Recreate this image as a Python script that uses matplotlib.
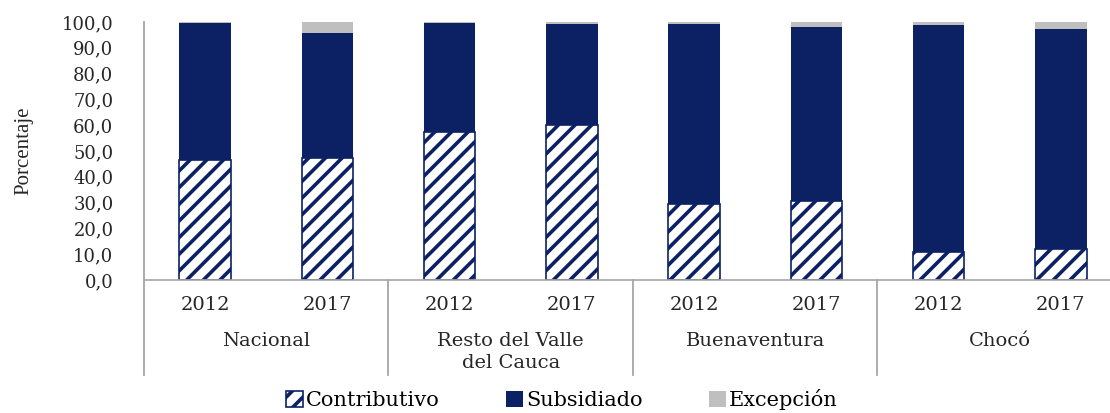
import numpy as np
import matplotlib
matplotlib.use('Agg')
from matplotlib import pyplot as plt
from matplotlib.patches import Patch

# afiliacion por regimen (%), dos anos por region
regiones = ['Nacional', 'Resto del Valle\ndel Cauca', 'Buenaventura', 'Chocó']
anios = ['2012', '2017']
contributivo = [46.5, 47.3, 57.4, 60.1, 29.3, 30.6, 10.9, 12.0]
subsidiado = [53.0, 48.4, 42.2, 39.1, 70.1, 67.5, 87.9, 85.3]
excepcion = [0.5, 4.3, 0.4, 0.8, 0.6, 1.9, 1.2, 2.7]

navy = '#0b2163'
gris = '#bfbfbf'
linea = '#a6a6a6'
texto = '#262626'
plt.rcParams['hatch.linewidth'] = 2.6
plt.rcParams['hatch.color'] = navy

fig = plt.figure(figsize=(11.1, 4.13), dpi=100)
ax = fig.add_axes([144/1110, 133/413, 978/1110, 258/413])

x = np.arange(len(contributivo))
w = 0.42
contrib = np.array(contributivo)
subs = np.array(subsidiado)
ax.bar(x, contrib, w, color='white', edgecolor=navy, hatch='//', linewidth=1.2)
ax.bar(x, subs, w, bottom=contrib, color=navy, linewidth=0)
ax.bar(x, excepcion, w, bottom=contrib + subs, color=gris, linewidth=0)

ax.set_xlim(-0.5, 7.5)
ax.set_ylim(0, 100)
ax.set_yticks(np.arange(0, 101, 10))
ax.set_yticklabels([('%.1f' % v).replace('.', ',') for v in np.arange(0, 101, 10)],
                   family='DejaVu Serif', fontsize=13, color=texto)
ax.tick_params(axis='y', length=0, pad=22)
ax.set_xticks([])
for s in ['top', 'right', 'left']:
    ax.spines[s].set_visible(False)
ax.spines['bottom'].set_color(linea)
ax.spines['bottom'].set_linewidth(1.2)

# separadores de grupo bajo el eje
trans = ax.get_xaxis_transform()
for xs in [-0.5, 1.5, 3.5, 5.5, 7.5]:
    top = 1.0 if xs == -0.5 else 0.0
    ax.plot([xs, xs], [top, -95/258], transform=trans, color=linea, lw=1.3, clip_on=False)

for i in x:
    ax.text(i, -25/258, anios[i % 2], transform=trans, ha='center', va='center',
            family='DejaVu Serif', fontsize=14, color=texto)
for g, nombre in enumerate(regiones):
    ax.text(2*g + 0.5, -52/258, nombre, transform=trans, ha='center', va='top',
            family='DejaVu Serif', fontsize=14, color=texto, linespacing=1.25)

ax.set_ylabel('Porcentaje', family='Liberation Serif', fontsize=15, color=texto)
ax.yaxis.set_label_coords(-111/978, 0.5)

handles = [Patch(facecolor='white', edgecolor=navy, hatch='//', lw=1.2),
           Patch(facecolor=navy), Patch(facecolor=gris)]
fig.legend(handles, ['Contributivo', 'Subsidiado', 'Excepción'], loc='center',
           bbox_to_anchor=(562/1110, 1 - 400/413), ncol=3, frameon=False,
           handlelength=0.8, handleheight=0.8, handletextpad=0.15, columnspacing=3.2,
           borderpad=0.2, prop={'family': 'DejaVu Serif', 'size': 15})

fig.savefig('out.png', dpi=100)
